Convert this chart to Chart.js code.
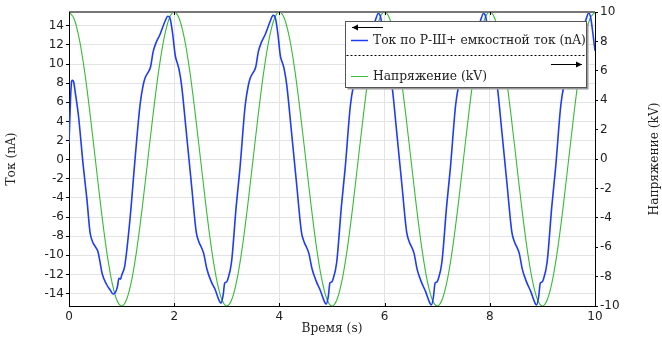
<!DOCTYPE html>
<html>
<head>
<meta charset="utf-8">
<script src="https://cdn.jsdelivr.net/npm/chart.js@4.4.1/dist/chart.umd.min.js"></script>
<style>
  html, body { margin: 0; padding: 0; background: #fff; }
  #wrap { width: 662px; height: 337px; position: relative; }
</style>
</head>
<body>
<div id="wrap"><canvas id="chart"></canvas></div>
<script>
const seriesNames = ['Ток по Р-Ш+ емкостной ток (nA)', 'Напряжение (kV)'];
const xTitle = 'Время (s)';
const yTitle = 'Ток (nA)';
const y2Title = 'Напряжение (kV)';

const xTicks = [0, 2, 4, 6, 8, 10];
const yTicks = [-14, -12, -10, -8, -6, -4, -2, 0, 2, 4, 6, 8, 10, 12, 14];
const y2Ticks = [-10, -8, -6, -4, -2, 0, 2, 4, 6, 8, 10];

// current (nA)
const currentTime = [
  0.00, 0.03, 0.05, 0.07, 0.09, 0.12, 0.18, 0.27, 0.34, 0.40, 0.45, 0.50, 0.55, 0.58, 0.63, 0.71, 0.78, 0.84, 0.88, 0.92,
  0.95, 0.98, 1.00, 1.06, 1.16, 1.25, 1.35, 1.41, 1.45, 1.50, 1.55, 1.60, 1.66, 1.73, 1.82, 1.88, 1.92,
  1.97, 2.02, 2.06, 2.09, 2.14, 2.23, 2.33, 2.42, 2.47, 2.52, 2.56, 2.62, 2.70, 2.78, 2.86, 2.89, 2.93, 2.96,
  2.99, 3.02, 3.09, 3.18, 3.25, 3.35, 3.41, 3.45, 3.50, 3.55, 3.60, 3.66, 3.73, 3.82, 3.88, 3.92,
  3.97, 4.02, 4.06, 4.09, 4.14, 4.23, 4.33, 4.42, 4.47, 4.52, 4.56, 4.62, 4.70, 4.78, 4.86, 4.89, 4.93, 4.96,
  4.99, 5.02, 5.09, 5.18, 5.25, 5.35, 5.41, 5.45, 5.50, 5.55, 5.60, 5.66, 5.73, 5.82, 5.88, 5.92,
  5.97, 6.02, 6.06, 6.09, 6.14, 6.23, 6.33, 6.42, 6.47, 6.52, 6.56, 6.62, 6.70, 6.78, 6.86, 6.89, 6.93, 6.96,
  6.99, 7.02, 7.09, 7.18, 7.25, 7.35, 7.41, 7.45, 7.50, 7.55, 7.60, 7.66, 7.73, 7.82, 7.88, 7.92,
  7.97, 8.02, 8.06, 8.09, 8.14, 8.23, 8.33, 8.42, 8.47, 8.52, 8.56, 8.62, 8.70, 8.78, 8.86, 8.89, 8.93, 8.96,
  8.99, 9.02, 9.09, 9.18, 9.25, 9.35, 9.41, 9.45, 9.50, 9.55, 9.60, 9.66, 9.73, 9.82, 9.88, 9.92, 9.96, 10.00
];
const current = [
  1.7, 6.5, 8.2, 8.3, 8.1, 7.0, 4.6, -0.6, -4.1, -7.6, -8.6, -9.1, -9.6, -10.4, -11.9, -13.0, -13.6, -14.05, -13.9, -13.3,
  -12.4, -12.5, -12.1, -11.1, -6.2, -0.3, 5.7, 7.8, 8.6, 9.1, 9.7, 11.3, 12.3, 13.1, 14.4, 15.0, 14.8,
  13.2, 10.9, 10.1, 9.5, 7.8, 2.9, -2.7, -7.6, -8.6, -9.2, -9.8, -11.4, -12.7, -13.6, -14.8, -15.0, -14.2, -12.9,
  -12.8, -12.5, -10.7, -4.8, -0.9, 5.7, 7.8, 8.6, 9.1, 9.7, 11.3, 12.3, 13.1, 14.4, 15.1, 14.9,
  13.2, 10.8, 10.1, 9.5, 7.8, 2.9, -2.7, -7.6, -8.6, -9.2, -9.8, -11.4, -12.7, -13.7, -14.9, -15.1, -14.3, -12.9,
  -12.8, -12.5, -10.7, -4.8, -0.9, 5.7, 7.8, 8.6, 9.1, 9.8, 11.4, 12.4, 13.2, 14.5, 15.3, 15.0,
  13.3, 10.8, 10.1, 9.5, 7.8, 2.9, -2.7, -7.6, -8.6, -9.2, -9.8, -11.5, -12.8, -13.8, -15.0, -15.2, -14.3, -12.9,
  -12.8, -12.5, -10.7, -4.8, -0.9, 5.7, 7.8, 8.6, 9.1, 9.8, 11.4, 12.4, 13.2, 14.5, 15.3, 15.0,
  13.3, 10.8, 10.1, 9.5, 7.8, 2.9, -2.7, -7.6, -8.6, -9.2, -9.8, -11.5, -12.8, -13.8, -15.0, -15.2, -14.3, -12.9,
  -12.8, -12.5, -10.7, -4.8, -0.9, 5.7, 7.8, 8.6, 9.1, 9.8, 11.4, 12.4, 13.2, 14.5, 15.35, 14.8, 13.2, 11.4
];

// voltage (kV), sampled every 0.1 s
const voltage = [
  10, 9.51, 8.09, 5.88, 3.09, 0, -3.09, -5.88, -8.09, -9.51, -10, -9.51, -8.09, -5.88, -3.09, 0, 3.09, 5.88, 8.09, 9.51,
  10, 9.51, 8.09, 5.88, 3.09, 0, -3.09, -5.88, -8.09, -9.51, -10, -9.51, -8.09, -5.88, -3.09, 0, 3.09, 5.88, 8.09, 9.51,
  10, 9.51, 8.09, 5.88, 3.09, 0, -3.09, -5.88, -8.09, -9.51, -10, -9.51, -8.09, -5.88, -3.09, 0, 3.09, 5.88, 8.09, 9.51,
  10, 9.51, 8.09, 5.88, 3.09, 0, -3.09, -5.88, -8.09, -9.51, -10, -9.51, -8.09, -5.88, -3.09, 0, 3.09, 5.88, 8.09, 9.51,
  10, 9.51, 8.09, 5.88, 3.09, 0, -3.09, -5.88, -8.09, -9.51, -10, -9.51, -8.09, -5.88, -3.09, 0, 3.09, 5.88, 8.09, 9.51,
  10
];
const voltageTime = voltage.map((_, i) => i / 10);

const BLUE = '#1f3cf5';
const GREEN = '#38bb38';
const SANS = '"DejaVu Sans", sans-serif';
const SERIF = '"DejaVu Serif", serif';

function fixTicks(values) {
  return scale => { scale.ticks = values.map(v => ({ value: v })); };
}

function drawArrow(ctx, x1, x2, y, dir) {
  ctx.strokeStyle = '#000';
  ctx.fillStyle = '#000';
  ctx.lineWidth = 1;
  ctx.beginPath();
  ctx.moveTo(x1, y);
  ctx.lineTo(x2, y);
  ctx.stroke();
  const tip = dir < 0 ? x1 : x2;
  ctx.beginPath();
  ctx.moveTo(tip, y);
  ctx.lineTo(tip - dir * 6, y - 3);
  ctx.lineTo(tip - dir * 6, y + 3);
  ctx.closePath();
  ctx.fill();
}

const overlay = {
  id: 'overlay',
  afterDraw(chart) {
    const ctx = chart.ctx;
    const { left, right, top, bottom } = chart.chartArea;
    const xs = chart.scales.x;
    ctx.save();

    // top frame + small inner ticks
    ctx.strokeStyle = '#777';
    ctx.lineWidth = 2;
    ctx.beginPath();
    ctx.moveTo(left, top);
    ctx.lineTo(right, top);
    ctx.stroke();
    ctx.strokeStyle = '#000';
    ctx.lineWidth = 1;
    xTicks.forEach(v => {
      const px = Math.round(xs.getPixelForValue(v)) + 0.5;
      ctx.beginPath();
      ctx.moveTo(px, top); ctx.lineTo(px, top + 3);
      ctx.moveTo(px, bottom); ctx.lineTo(px, bottom - 3);
      ctx.stroke();
    });

    // axis titles
    ctx.fillStyle = '#222';
    ctx.font = '12.2px ' + SERIF;
    ctx.textAlign = 'center';
    ctx.textBaseline = 'middle';
    ctx.fillText(xTitle, (left + right) / 2, 329);
    ctx.save();
    ctx.translate(12, (top + bottom) / 2);
    ctx.rotate(-Math.PI / 2);
    ctx.fillText(yTitle, 0, 0);
    ctx.restore();
    ctx.save();
    ctx.translate(655, (top + bottom) / 2);
    ctx.rotate(-Math.PI / 2);
    ctx.fillText(y2Title, 0, 0);
    ctx.restore();

    // legend box
    const bx = 345.5, by = 21.5, bw = 241, bh = 66;
    ctx.fillStyle = '#999';
    ctx.fillRect(bx + 2, by + 2, bw, bh);
    ctx.fillStyle = '#fff';
    ctx.fillRect(bx, by, bw, bh);
    ctx.strokeStyle = '#555';
    ctx.lineWidth = 1;
    ctx.strokeRect(bx, by, bw, bh);

    drawArrow(ctx, 352, 383, 27.5, -1);
    drawArrow(ctx, 551, 582, 64.5, 1);

    ctx.setLineDash([2, 2]);
    ctx.beginPath();
    ctx.moveTo(bx + 1, 55.5);
    ctx.lineTo(bx + bw - 1, 55.5);
    ctx.stroke();
    ctx.setLineDash([]);

    const rows = [[40.5, BLUE, 1.5], [76.5, GREEN, 1]];
    ctx.textAlign = 'left';
    ctx.fillStyle = '#222';
    ctx.font = '12.3px ' + SERIF;
    rows.forEach((r, i) => {
      ctx.strokeStyle = r[1];
      ctx.lineWidth = r[2];
      ctx.beginPath();
      ctx.moveTo(351, r[0]);
      ctx.lineTo(368, r[0]);
      ctx.stroke();
      ctx.fillText(seriesNames[i], 373, r[0] + 0.5);
    });

    ctx.restore();
  }
};

new Chart(document.getElementById('chart'), {
  type: 'line',
  data: {
    datasets: [
      {
        label: seriesNames[0],
        data: currentTime.map((t, i) => ({ x: t, y: current[i] })),
        yAxisID: 'y',
        borderColor: BLUE,
        borderWidth: 1.6,
        pointRadius: 0,
        cubicInterpolationMode: 'monotone',
        fill: false,
      },
      {
        label: seriesNames[1],
        data: voltageTime.map((t, i) => ({ x: t, y: voltage[i] })),
        yAxisID: 'y2',
        borderColor: GREEN,
        borderWidth: 1.1,
        pointRadius: 0,
        cubicInterpolationMode: 'monotone',
        fill: false,
      }
    ]
  },
  options: {
    responsive: true,
    maintainAspectRatio: false,
    animation: false,
    layout: { padding: { top: 12, left: 0, right: 0, bottom: 0 } },
    plugins: { legend: { display: false }, tooltip: { enabled: false } },
    scales: {
      x: {
        type: 'linear',
        min: 0, max: 10,
        afterBuildTicks: fixTicks(xTicks),
        afterFit: s => { s.height = 31; },
        ticks: { font: { family: SANS, size: 12 }, color: '#222', padding: 4, maxRotation: 0 },
        grid: { color: '#e3e3e3', drawTicks: false },
        border: { color: '#000', width: 1 }
      },
      y: {
        position: 'left',
        min: -15.3, max: 15.45,
        afterBuildTicks: fixTicks(yTicks),
        afterFit: s => { s.width = 69; },
        ticks: { font: { family: SANS, size: 12 }, color: '#222', padding: 2 },
        grid: { color: '#e3e3e3', tickColor: '#000', tickLength: 3 },
        border: { color: '#000', width: 1 }
      },
      y2: {
        position: 'right',
        min: -10, max: 10,
        afterBuildTicks: fixTicks(y2Ticks),
        afterFit: s => { s.width = 67; },
        ticks: { font: { family: SANS, size: 12 }, color: '#222', padding: 2 },
        grid: { drawOnChartArea: false, tickColor: '#000', tickLength: 3 },
        border: { color: '#000', width: 1 }
      }
    }
  },
  plugins: [overlay]
});
</script>
</body>
</html>
